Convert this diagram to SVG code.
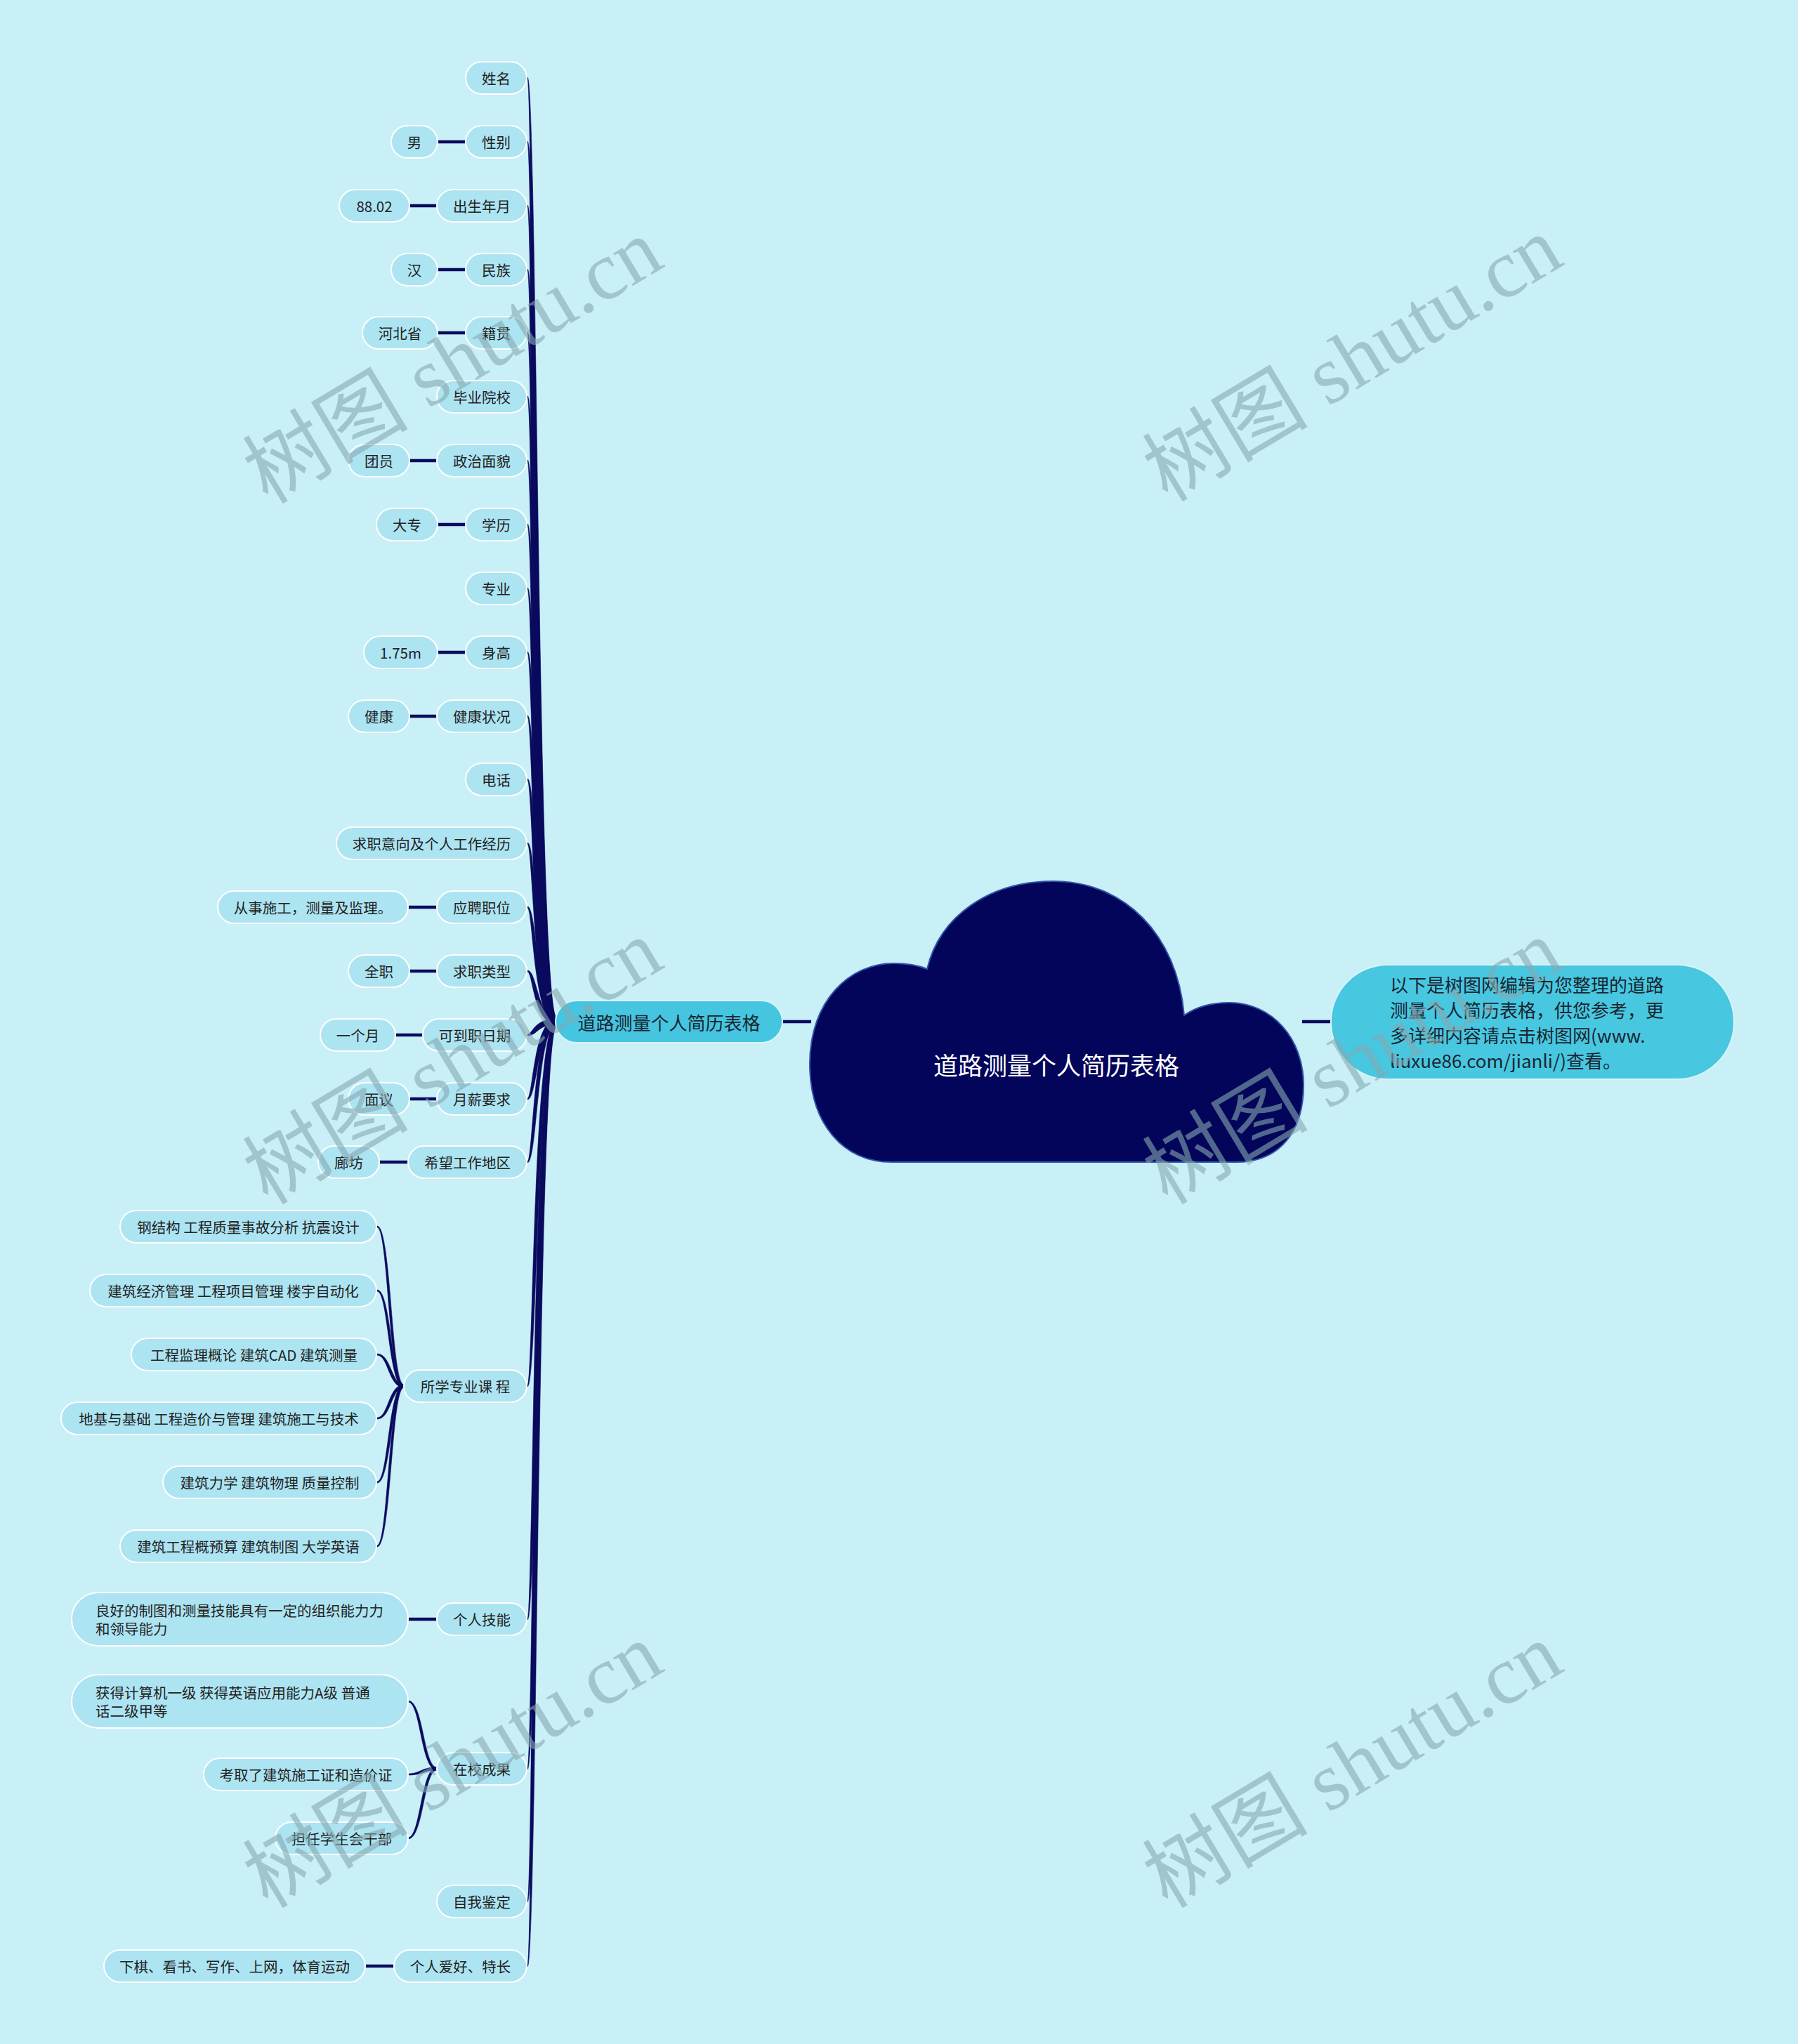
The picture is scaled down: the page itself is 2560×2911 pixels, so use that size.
<svg xmlns="http://www.w3.org/2000/svg" width="2560" height="2911" viewBox="0 0 2560 2911">
<style>
.bg{fill:#c9eff7}
.n{fill:#ade4f2;stroke:#ffffff;stroke-width:2}
.n1{fill:#45c5e0;stroke:#d8f4fa;stroke-width:2}
.t{font-family:"Noto Sans CJK SC","Noto Sans",sans-serif;font-size:20.5px;fill:#222222;text-anchor:middle;dominant-baseline:central}
.tl{font-family:"Noto Sans CJK SC","Noto Sans",sans-serif;font-size:20.5px;fill:#222222;dominant-baseline:central}
.t1{font-family:"Noto Sans CJK SC","Noto Sans",sans-serif;font-size:26px;fill:#1a2530;dominant-baseline:central}
.tc{font-family:"Noto Sans CJK SC","Noto Sans",sans-serif;font-size:35px;fill:#ffffff;text-anchor:middle;dominant-baseline:central}
.ln{stroke:#0a0a5e;stroke-width:4.5;fill:none}
.br{fill:#0a0a5e;stroke:#0a0a5e;stroke-width:0.6}
.wm{font-family:"Liberation Serif","Noto Sans CJK SC",serif;font-size:118px;fill:#86a8b0;fill-opacity:0.6;text-anchor:middle;dominant-baseline:central}
</style>
<rect class="bg" x="0" y="0" width="2560" height="2911"/>

<g id="connectors">
  <line class="ln" x1="1114" y1="1455" x2="1155" y2="1455" stroke-width="5"/>
  <line class="ln" x1="1854" y1="1455" x2="1895" y2="1455" stroke-width="5"/>
  <path class="br" d="M793,1451 C765,1451 765,110 751,110 L751,112 C759,112 759,1459 793,1459 Z"/>
  <path class="br" d="M793,1451 C765,1451 765,201 751,201 L751,203 C759,203 759,1459 793,1459 Z"/>
  <path class="br" d="M793,1451 C765,1451 765,292 751,292 L751,294 C759,294 759,1459 793,1459 Z"/>
  <path class="br" d="M793,1451 C765,1451 765,383 751,383 L751,385 C759,385 759,1459 793,1459 Z"/>
  <path class="br" d="M793,1451 C765,1451 765,473 751,473 L751,475 C759,475 759,1459 793,1459 Z"/>
  <path class="br" d="M793,1451 C765,1451 765,564 751,564 L751,566 C759,566 759,1459 793,1459 Z"/>
  <path class="br" d="M793,1451 C765,1451 765,655 751,655 L751,657 C759,657 759,1459 793,1459 Z"/>
  <path class="br" d="M793,1451 C765,1451 765,746 751,746 L751,748 C759,748 759,1459 793,1459 Z"/>
  <path class="br" d="M793,1451 C765,1451 765,837 751,837 L751,839 C759,839 759,1459 793,1459 Z"/>
  <path class="br" d="M793,1451 C765,1451 765,928 751,928 L751,930 C759,930 759,1459 793,1459 Z"/>
  <path class="br" d="M793,1451 C765,1451 765,1019 751,1019 L751,1021 C759,1021 759,1459 793,1459 Z"/>
  <path class="br" d="M793,1451 C765,1451 765,1109 751,1109 L751,1111 C759,1111 759,1459 793,1459 Z"/>
  <path class="br" d="M793,1451 C765,1451 765,1200 751,1200 L751,1202 C759,1202 759,1459 793,1459 Z"/>
  <path class="br" d="M793,1451 C765,1451 765,1291 751,1291 L751,1293 C759,1293 759,1459 793,1459 Z"/>
  <path class="br" d="M793,1451 C765,1451 765,1382 751,1382 L751,1384 C759,1384 759,1459 793,1459 Z"/>
  <path class="br" d="M793,1459 C765,1459 765,1475 751,1475 L751,1473 C759,1473 759,1451 793,1451 Z"/>
  <path class="br" d="M793,1459 C765,1459 765,1566 751,1566 L751,1564 C759,1564 759,1451 793,1451 Z"/>
  <path class="br" d="M793,1459 C765,1459 765,1656 751,1656 L751,1654 C759,1654 759,1451 793,1451 Z"/>
  <path class="br" d="M793,1459 C765,1459 765,1975 751,1975 L751,1973 C759,1973 759,1451 793,1451 Z"/>
  <path class="br" d="M793,1459 C765,1459 765,2307 751,2307 L751,2305 C759,2305 759,1451 793,1451 Z"/>
  <path class="br" d="M793,1459 C765,1459 765,2520 751,2520 L751,2518 C759,2518 759,1451 793,1451 Z"/>
  <path class="br" d="M793,1459 C765,1459 765,2709 751,2709 L751,2707 C759,2707 759,1451 793,1451 Z"/>
  <path class="br" d="M793,1459 C765,1459 765,2801 751,2801 L751,2799 C759,2799 759,1451 793,1451 Z"/>
  <path class="br" d="M575,1972 C557,1972 557,1746 537,1746 L537,1748 C553,1748 553,1976 575,1976 Z"/>
  <path class="br" d="M575,1972 C557,1972 557,1837 537,1837 L537,1839 C553,1839 553,1976 575,1976 Z"/>
  <path class="br" d="M575,1972 C557,1972 557,1928 537,1928 L537,1930 C553,1930 553,1976 575,1976 Z"/>
  <path class="br" d="M575,1976 C557,1976 557,2021 537,2021 L537,2019 C553,2019 553,1972 575,1972 Z"/>
  <path class="br" d="M575,1976 C557,1976 557,2112 537,2112 L537,2110 C553,2110 553,1972 575,1972 Z"/>
  <path class="br" d="M575,1976 C557,1976 557,2203 537,2203 L537,2201 C553,2201 553,1972 575,1972 Z"/>
  <path class="br" d="M622,2517 C603,2517 603,2422 581,2422 L581,2424 C599,2424 599,2521 622,2521 Z"/>
  <path class="br" d="M622,2521 C603,2521 603,2528 581,2528 L581,2526 C599,2526 599,2517 622,2517 Z"/>
  <path class="br" d="M622,2521 C603,2521 603,2619 581,2619 L581,2617 C599,2617 599,2517 622,2517 Z"/>
  <line class="ln" x1="623" y1="202" x2="663" y2="202"/>
  <line class="ln" x1="583" y1="293" x2="622" y2="293"/>
  <line class="ln" x1="623" y1="384" x2="663" y2="384"/>
  <line class="ln" x1="623" y1="474" x2="663" y2="474"/>
  <line class="ln" x1="583" y1="656" x2="622" y2="656"/>
  <line class="ln" x1="623" y1="747" x2="663" y2="747"/>
  <line class="ln" x1="623" y1="929" x2="663" y2="929"/>
  <line class="ln" x1="583" y1="1020" x2="622" y2="1020"/>
  <line class="ln" x1="581" y1="1292" x2="622" y2="1292"/>
  <line class="ln" x1="583" y1="1383" x2="622" y2="1383"/>
  <line class="ln" x1="563" y1="1474" x2="602" y2="1474"/>
  <line class="ln" x1="583" y1="1565" x2="622" y2="1565"/>
  <line class="ln" x1="540" y1="1655" x2="581" y2="1655"/>
  <line class="ln" x1="581" y1="2306" x2="622" y2="2306"/>
  <line class="ln" x1="520" y1="2800" x2="561" y2="2800"/>
</g>

<g id="center">
  <path d="M1270,1655 C1200,1655 1153,1600 1153,1515 C1153,1425 1210,1372 1272,1372 C1292,1372 1308,1375 1320,1380 C1338,1305 1408,1255 1500,1255 C1600,1255 1676,1330 1686,1446 C1703,1434 1724,1428 1750,1428 C1812,1428 1856,1480 1856,1545 C1856,1612 1822,1655 1760,1655 Z" fill="#03055a" stroke="#2d55a8" stroke-width="2"/>
  <text class="tc" x="1504" y="1515">道路测量个人简历表格</text>
</g>

<g id="desc">
  <rect x="1895" y="1374" width="574" height="163" rx="81" fill="#47c7e0" stroke="#d8f4fa" stroke-width="2"/>
  <text class="t1" x="1979" y="1401">以下是树图网编辑为您整理的道路</text>
  <text class="t1" x="1979" y="1437">测量个人简历表格，供您参考，更</text>
  <text class="t1" x="1979" y="1473">多详细内容请点击树图网(www.</text>
  <text class="t1" x="1979" y="1509">liuxue86.com/jianli/)查看。</text>
</g>

<g id="main">
  <rect class="n1" x="791" y="1425" width="323" height="60" rx="30"/>
  <text class="t1" x="952.5" y="1455" text-anchor="middle">道路测量个人简历表格</text>
</g>

<g id="n-name"><rect class="n" x="663" y="88" width="87" height="46" rx="23"/><text class="t" x="706.5" y="111">姓名</text></g>
<g id="n-sex"><rect class="n" x="663" y="179" width="87" height="46" rx="23"/><text class="t" x="706.5" y="202">性别</text></g>
<g id="n-sex-v"><rect class="n" x="557" y="179" width="66" height="46" rx="23"/><text class="t" x="590" y="202">男</text></g>
<g id="n-birth"><rect class="n" x="622" y="270" width="128" height="46" rx="23"/><text class="t" x="686" y="293">出生年月</text></g>
<g id="n-birth-v"><rect class="n" x="483" y="270" width="100" height="46" rx="23"/><text class="t" x="533" y="293">88.02</text></g>
<g id="n-nation"><rect class="n" x="663" y="361" width="87" height="46" rx="23"/><text class="t" x="706.5" y="384">民族</text></g>
<g id="n-nation-v"><rect class="n" x="557" y="361" width="66" height="46" rx="23"/><text class="t" x="590" y="384">汉</text></g>
<g id="n-origin"><rect class="n" x="663" y="451" width="87" height="46" rx="23"/><text class="t" x="706.5" y="474">籍贯</text></g>
<g id="n-origin-v"><rect class="n" x="516" y="451" width="107" height="46" rx="23"/><text class="t" x="569.5" y="474">河北省</text></g>
<g id="n-school"><rect class="n" x="622" y="542" width="128" height="46" rx="23"/><text class="t" x="686" y="565">毕业院校</text></g>
<g id="n-politics"><rect class="n" x="622" y="633" width="128" height="46" rx="23"/><text class="t" x="686" y="656">政治面貌</text></g>
<g id="n-politics-v"><rect class="n" x="496" y="633" width="87" height="46" rx="23"/><text class="t" x="539.5" y="656">团员</text></g>
<g id="n-edu"><rect class="n" x="663" y="724" width="87" height="46" rx="23"/><text class="t" x="706.5" y="747">学历</text></g>
<g id="n-edu-v"><rect class="n" x="536" y="724" width="87" height="46" rx="23"/><text class="t" x="579.5" y="747">大专</text></g>
<g id="n-major"><rect class="n" x="663" y="815" width="87" height="46" rx="23"/><text class="t" x="706.5" y="838">专业</text></g>
<g id="n-height"><rect class="n" x="663" y="906" width="87" height="46" rx="23"/><text class="t" x="706.5" y="929">身高</text></g>
<g id="n-height-v"><rect class="n" x="518" y="906" width="105" height="46" rx="23"/><text class="t" x="570.5" y="929">1.75m</text></g>
<g id="n-health"><rect class="n" x="622" y="997" width="128" height="46" rx="23"/><text class="t" x="686" y="1020">健康状况</text></g>
<g id="n-health-v"><rect class="n" x="496" y="997" width="87" height="46" rx="23"/><text class="t" x="539.5" y="1020">健康</text></g>
<g id="n-phone"><rect class="n" x="663" y="1087" width="87" height="46" rx="23"/><text class="t" x="706.5" y="1110">电话</text></g>
<g id="n-intent"><rect class="n" x="479" y="1178" width="271" height="46" rx="23"/><text class="t" x="614.5" y="1201">求职意向及个人工作经历</text></g>
<g id="n-post"><rect class="n" x="622" y="1269" width="128" height="46" rx="23"/><text class="t" x="686" y="1292">应聘职位</text></g>
<g id="n-post-v"><rect class="n" x="310" y="1269" width="271" height="46" rx="23"/><text class="t" x="445.5" y="1292">从事施工，测量及监理。</text></g>
<g id="n-type"><rect class="n" x="622" y="1360" width="128" height="46" rx="23"/><text class="t" x="686" y="1383">求职类型</text></g>
<g id="n-type-v"><rect class="n" x="496" y="1360" width="87" height="46" rx="23"/><text class="t" x="539.5" y="1383">全职</text></g>
<g id="n-date"><rect class="n" x="602" y="1451" width="148" height="46" rx="23"/><text class="t" x="676" y="1474">可到职日期</text></g>
<g id="n-date-v"><rect class="n" x="456" y="1451" width="107" height="46" rx="23"/><text class="t" x="509.5" y="1474">一个月</text></g>
<g id="n-salary"><rect class="n" x="622" y="1542" width="128" height="46" rx="23"/><text class="t" x="686" y="1565">月薪要求</text></g>
<g id="n-salary-v"><rect class="n" x="496" y="1542" width="87" height="46" rx="23"/><text class="t" x="539.5" y="1565">面议</text></g>
<g id="n-area"><rect class="n" x="581" y="1632" width="169" height="46" rx="23"/><text class="t" x="665.5" y="1655">希望工作地区</text></g>
<g id="n-area-v"><rect class="n" x="453" y="1632" width="87" height="46" rx="23"/><text class="t" x="496.5" y="1655">廊坊</text></g>
<g id="n-course"><rect class="n" x="575" y="1951" width="175" height="46" rx="23"/><text class="t" x="662.5" y="1974">所学专业课 程</text></g>
<g id="n-course-1"><rect class="n" x="171" y="1724" width="365" height="46" rx="23"/><text class="t" x="353.5" y="1747">钢结构 工程质量事故分析 抗震设计</text></g>
<g id="n-course-2"><rect class="n" x="128" y="1815" width="408" height="46" rx="23"/><text class="t" x="332" y="1838">建筑经济管理 工程项目管理 楼宇自动化</text></g>
<g id="n-course-3"><rect class="n" x="187" y="1906" width="349" height="46" rx="23"/><text class="t" x="361.5" y="1929">工程监理概论 建筑CAD 建筑测量</text></g>
<g id="n-course-4"><rect class="n" x="87" y="1997" width="449" height="46" rx="23"/><text class="t" x="311.5" y="2020">地基与基础 工程造价与管理 建筑施工与技术</text></g>
<g id="n-course-5"><rect class="n" x="232" y="2088" width="304" height="46" rx="23"/><text class="t" x="384" y="2111">建筑力学 建筑物理 质量控制</text></g>
<g id="n-course-6"><rect class="n" x="171" y="2179" width="365" height="46" rx="23"/><text class="t" x="353.5" y="2202">建筑工程概预算 建筑制图 大学英语</text></g>
<g id="n-skill"><rect class="n" x="622" y="2283" width="128" height="46" rx="23"/><text class="t" x="686" y="2306">个人技能</text></g>
<g id="n-skill-v"><rect class="n" x="102" y="2268" width="479" height="76" rx="38"/><text class="tl" x="136" y="2293">良好的制图和测量技能具有一定的组织能力力</text><text class="tl" x="136" y="2319">和领导能力</text></g>
<g id="n-achieve"><rect class="n" x="622" y="2496" width="128" height="46" rx="23"/><text class="t" x="686" y="2519">在校成果</text></g>
<g id="n-achieve-1"><rect class="n" x="102" y="2385" width="479" height="76" rx="38"/><text class="tl" x="136" y="2410">获得计算机一级 获得英语应用能力A级 普通</text><text class="tl" x="136" y="2436">话二级甲等</text></g>
<g id="n-achieve-2"><rect class="n" x="290" y="2504" width="291" height="46" rx="23"/><text class="t" x="435.5" y="2527">考取了建筑施工证和造价证</text></g>
<g id="n-achieve-3"><rect class="n" x="392" y="2595" width="189" height="46" rx="23"/><text class="t" x="486.5" y="2618">担任学生会干部</text></g>
<g id="n-self"><rect class="n" x="622" y="2685" width="128" height="46" rx="23"/><text class="t" x="686" y="2708">自我鉴定</text></g>
<g id="n-hobby"><rect class="n" x="561" y="2777" width="189" height="46" rx="23"/><text class="t" x="655.5" y="2800">个人爱好、特长</text></g>
<g id="n-hobby-v"><rect class="n" x="148" y="2777" width="372" height="46" rx="23"/><text class="t" x="334" y="2800">下棋、看书、写作、上网，体育运动</text></g>

<g id="watermarks">
  <text class="wm" transform="translate(645,515) rotate(-31)">树图 shutu.cn</text>
  <text class="wm" transform="translate(1926,512) rotate(-31)">树图 shutu.cn</text>
  <text class="wm" transform="translate(645,1513) rotate(-31)">树图 shutu.cn</text>
  <text class="wm" transform="translate(1926,1513) rotate(-31)">树图 shutu.cn</text>
  <text class="wm" transform="translate(645,2515) rotate(-31)">树图 shutu.cn</text>
  <text class="wm" transform="translate(1926,2515) rotate(-31)">树图 shutu.cn</text>
</g>
</svg>
